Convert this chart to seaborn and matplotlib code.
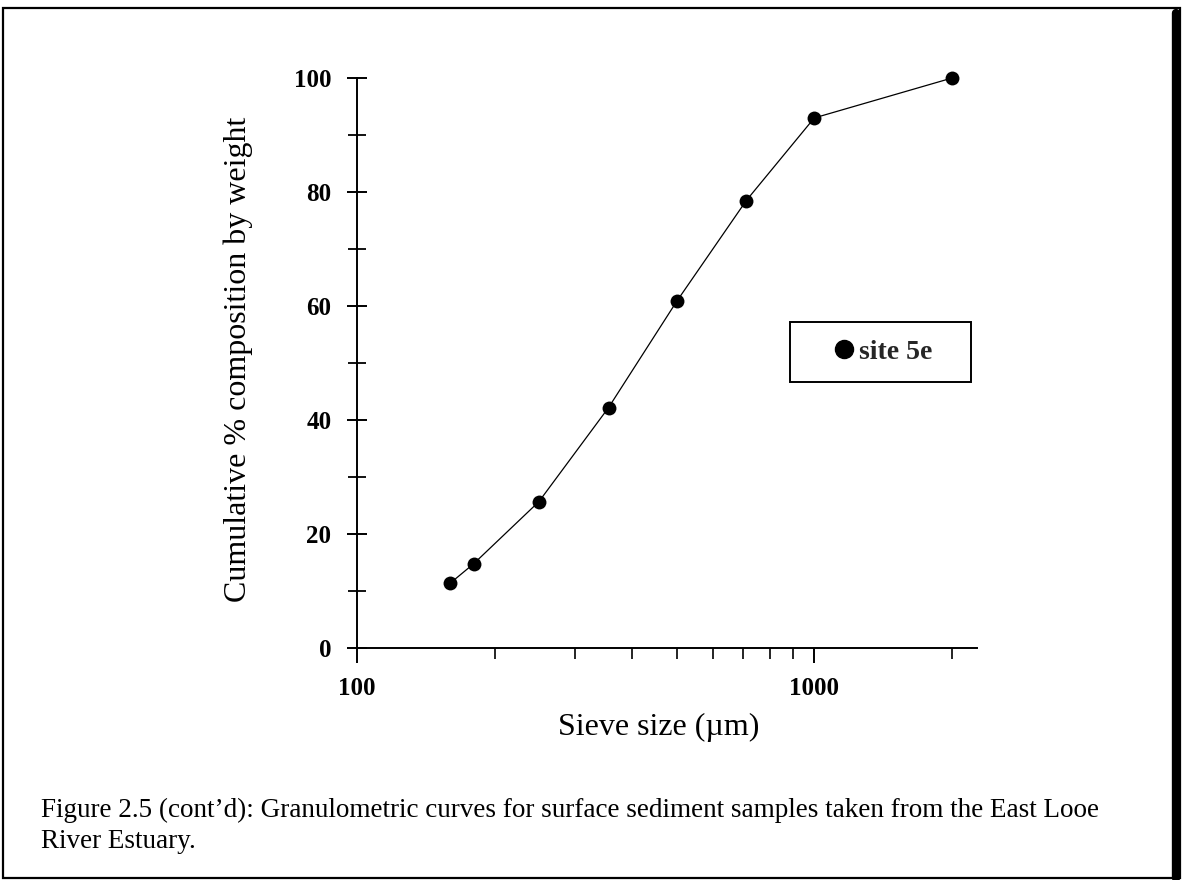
import matplotlib
matplotlib.use("Agg")
import matplotlib.pyplot as plt
import matplotlib.ticker as mticker
from matplotlib.patches import Rectangle
from matplotlib.lines import Line2D
import seaborn as sns
import pandas as pd

# ---- data ----
sieve_size_um = [160, 180, 250, 355, 500, 710, 1000, 2000]
cumulative_pct = [11.4, 14.8, 25.7, 42.2, 60.8, 78.5, 93.0, 100.0]
series_label = "site 5e"
x_label = "Sieve size (\u00b5m)"
y_label = "Cumulative % composition by weight"
caption_line1 = ("Figure 2.5 (cont\u2019d): Granulometric curves for surface sediment samples "
                 "taken from the East Looe")
caption_line2 = "River Estuary."
y_major_ticks = [0, 20, 40, 60, 80, 100]
y_minor_ticks = [10, 30, 50, 70, 90]
x_major_ticks = [100, 1000]
x_minor_ticks = [200, 300, 400, 500, 600, 700, 800, 900, 2000]

df = pd.DataFrame({"size": sieve_size_um, "pct": cumulative_pct})

sns.set_theme(style="ticks")
plt.rcParams["font.family"] = ["Liberation Serif", "DejaVu Serif"]

fig = plt.figure(figsize=(11.85, 8.8), dpi=100)
fig.patch.set_facecolor("white")
ax = fig.add_axes([0.3013, 0.2636, 0.5232, 0.6477])
ax.set_facecolor("white")

sns.lineplot(data=df, x="size", y="pct", ax=ax, color="black", linewidth=0.9,
             legend=False, clip_on=False)
sns.scatterplot(data=df, x="size", y="pct", ax=ax, color="black", s=100,
                edgecolor="black", linewidth=0, legend=False, clip_on=False, zorder=5)

ax.set_xscale("log")
ax.set_xlim(100, 2270)
ax.set_ylim(0, 100)
ax.xaxis.set_major_locator(mticker.FixedLocator(x_major_ticks))
ax.xaxis.set_minor_locator(mticker.FixedLocator(x_minor_ticks))
ax.xaxis.set_major_formatter(mticker.FixedFormatter([str(v) for v in x_major_ticks]))
ax.xaxis.set_minor_formatter(mticker.NullFormatter())
ax.yaxis.set_major_locator(mticker.FixedLocator(y_major_ticks))
ax.yaxis.set_minor_locator(mticker.FixedLocator(y_minor_ticks))

for s in ["top", "right"]:
    ax.spines[s].set_visible(False)
for s in ["left", "bottom"]:
    ax.spines[s].set_linewidth(1.4)
    ax.spines[s].set_color("black")

ax.tick_params(axis="y", which="major", direction="inout", length=15, width=1.4,
               labelsize=18, pad=11, colors="black")
ax.tick_params(axis="y", which="minor", direction="inout", length=13, width=1.3, colors="black")
ax.tick_params(axis="x", which="major", direction="out", length=11, width=1.4,
               labelsize=18, pad=10, colors="black")
ax.tick_params(axis="x", which="minor", direction="out", length=8, width=1.2, colors="black")
for lab in ax.get_xticklabels() + ax.get_yticklabels():
    lab.set_fontweight("bold")

ax.set_xlabel(x_label, fontsize=23, color="black")
ax.set_ylabel(y_label, fontsize=23, color="black")
ax.xaxis.set_label_coords(0.487, -0.113)
ax.yaxis.set_label_coords(-0.168, 0.507)

# legend box
ax.add_patch(Rectangle((0.698, 0.467), 0.292, 0.105, transform=ax.transAxes,
                       facecolor="white", edgecolor="black", linewidth=1.4, zorder=6))
handle = Line2D([], [], marker="o", color="black", linestyle="none", markersize=13)
leg = ax.legend([handle], [series_label], loc="center", bbox_to_anchor=(0.846, 0.519),
                frameon=False, fontsize=20, handletextpad=0.05, handlelength=1.0,
                borderpad=0.2)
leg.set_zorder(7)
for t in leg.get_texts():
    t.set_fontweight("bold")

# caption
fig.text(0.035, 1 - 817 / 880, caption_line1, ha="left", va="baseline",
         fontsize=19.5, color="black")
fig.text(0.035, 1 - 848 / 880, caption_line2, ha="left", va="baseline",
         fontsize=19.5, color="black")

# page frame
fig.add_artist(Rectangle((0.0025, 0.0023), 0.9935, 0.9886, transform=fig.transFigure,
                         fill=False, edgecolor="black", linewidth=1.6))
fig.add_artist(Line2D([0.9925, 0.9925], [0.0023, 0.985], transform=fig.transFigure,
                      color="black", linewidth=6))

fig.savefig("out.png", dpi=100, facecolor="white")
